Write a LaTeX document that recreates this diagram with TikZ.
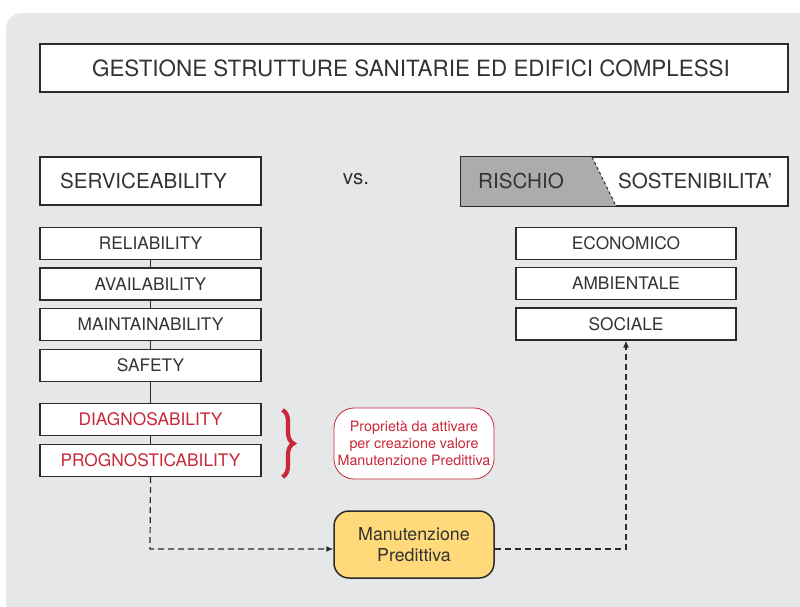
\documentclass[tikz,border=0pt]{standalone}
\usepackage{fontspec}
\setmainfont{TeX Gyre Heros}
\usetikzlibrary{arrows.meta,decorations.pathreplacing}

\definecolor{panelgray}{HTML}{E6E7E8}
\definecolor{ink}{HTML}{333333}
\definecolor{edge}{HTML}{2B2B2B}
\definecolor{riskgray}{HTML}{ABACAE}
\definecolor{alertred}{HTML}{C82838}
\definecolor{pmyellow}{HTML}{FFD97A}

\tikzset{
  box/.style={draw=edge, line width=1.3pt, fill=white, inner sep=0pt,
    minimum width=221pt, minimum height=32pt, text=ink,
    font=\fontsize{17.3}{20}\selectfont},
  bigbox/.style={box, minimum height=48pt, font=\fontsize{20.5}{24}\selectfont},
  headtext/.style={text=ink, font=\fontsize{20.6}{24}\selectfont, inner sep=0pt},
  redtext/.style={text=alertred},
  link/.style={draw=edge, line width=1.3pt},
  flow/.style={draw=edge, line width=1.2pt, dash pattern=on 6pt off 4pt,
    -{Latex[length=7pt,width=6pt]}},
}

\begin{document}
\begin{tikzpicture}[x=1pt,y=-1pt]
\useasboundingbox (0,0) rectangle (800,606);

% background panel
\fill[panelgray, rounded corners=16pt] (6,13) rectangle (840,650);

% title
\node[bigbox, minimum width=748pt, minimum height=48pt] (title) at (414,68) {};
\node[headtext, font=\fontsize{22.4}{26}\selectfont] (titlelbl) at (411,68)
  {GESTIONE STRUTTURE SANITARIE ED EDIFICI COMPLESSI};

% serviceability header
\node[bigbox] (serv) at (150.5,181) {};
\node[headtext, anchor=west] (servlbl) at (60,181) {SERVICEABILITY};

\node[headtext] (vs) at (356,179) {vs.};

% risk / sustainability header
\node[draw=edge, line width=1.3pt, fill=white, minimum width=327pt,
      minimum height=49pt, inner sep=0pt] (risk) at (624.5,181.5) {};
\fill[riskgray] (risk.north west) -- (592,157) -- (616,206) -- (risk.south west) -- cycle;
\draw[edge, line width=1pt, dash pattern=on 3pt off 2.5pt] (592,157) -- (616,206);
\draw[edge, line width=1.3pt] (risk.north west) rectangle (risk.south east);
\node[headtext, anchor=west] (risklbl) at (478,181) {RISCHIO};
\node[headtext, anchor=west] (sustlbl) at (618,181) {SOSTENIBILITA'};

% serviceability properties
\node[box] (rel)   at (150.5,243.5) {RELIABILITY};
\node[box] (avail) at (150.5,284)   {AVAILABILITY};
\node[box] (maint) at (150.5,324.5) {MAINTAINABILITY};
\node[box] (safe)  at (150.5,365.5) {SAFETY};
\node[box, redtext] (diag) at (150.5,419.5) {DIAGNOSABILITY};
\node[box, redtext] (prog) at (150.5,460.5) {PROGNOSTICABILITY};

\draw[link] (rel) -- (avail);
\draw[link] (avail) -- (maint);
\draw[link] (maint) -- (safe);
\draw[link] (safe) -- (diag);
\draw[link] (diag) -- (prog);

% sustainability dimensions
\node[box, minimum width=220pt] (eco)  at (626,243.5) {ECONOMICO};
\node[box, minimum width=220pt] (amb)  at (626,283.5) {AMBIENTALE};
\node[box, minimum width=220pt] (soc)  at (626,324)   {SOCIALE};

% brace and note
\draw[alertred, line width=4.2pt, decorate,
      decoration={brace, amplitude=11pt}] (282.5,410) -- (282.5,477);
\node[draw=alertred, line width=0.8pt, fill=white, rounded corners=20pt,
      minimum width=160pt, minimum height=71pt, inner sep=0pt,
      text=alertred, align=center, font=\fontsize{14.3}{17.3}\selectfont]
  (note) at (414,443.5)
  {Proprietà da attivare\\per creazione valore\\Manutenzione Predittiva};

% predictive maintenance
\node[draw=edge, line width=1.5pt, fill=pmyellow, rounded corners=15pt,
      minimum width=160pt, minimum height=67pt, inner sep=0pt, text=ink,
      align=center, font=\fontsize{17.8}{21}\selectfont]
  (pm) at (414,544.5) {Manutenzione\\Predittiva};

\coordinate (lc) at (150,549);
\coordinate (rc) at (626,549);
\draw[flow] (prog.south) -- (lc) -- (pm.west |- lc);
\draw[flow] (pm.east |- rc) -- (rc) -- (soc.south);

\end{tikzpicture}
\end{document}
